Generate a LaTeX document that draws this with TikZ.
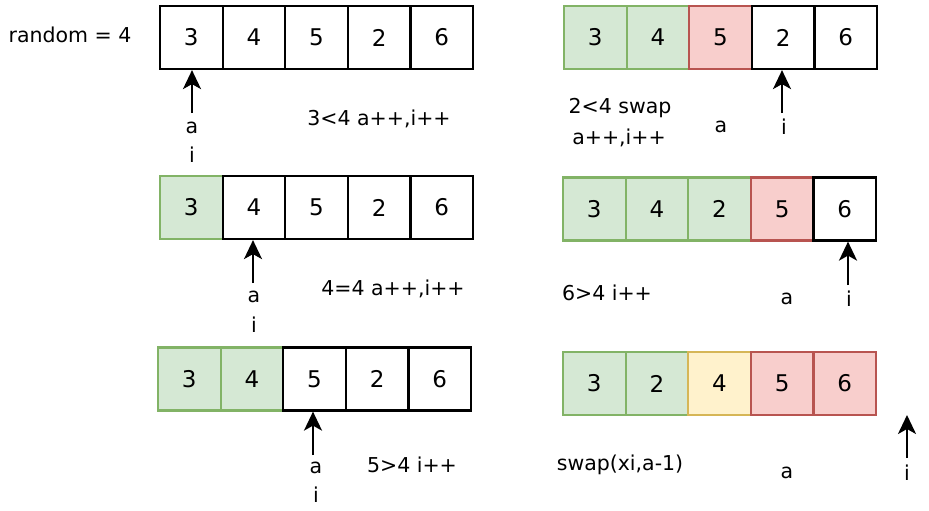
\documentclass[tikz,border=0pt]{standalone}
\usepackage{fontspec}
\setmainfont{DejaVu Sans}
\usetikzlibrary{arrows.meta}
\definecolor{gfill}{HTML}{D5E8D4}\definecolor{gline}{HTML}{82B366}
\definecolor{rfill}{HTML}{F8CECC}\definecolor{rline}{HTML}{B85450}
\definecolor{yfill}{HTML}{FFF2CC}\definecolor{yline}{HTML}{D6B656}
\tikzset{
  cellbase/.style={rectangle, minimum width=62.6pt, minimum height=63pt, inner sep=0pt, line width=2.2pt, font=\fontsize{23}{25}\selectfont},
  cellW/.style={cellbase, draw=black, fill=white},
  cellG/.style={cellbase, draw=gline, fill=gfill},
  cellR/.style={cellbase, draw=rline, fill=rfill},
  cellY/.style={cellbase, draw=yline, fill=yfill},
  lbl/.style={inner sep=0pt, text depth=0pt, font=\fontsize{20.5}{22}\selectfont},
  ptr/.style={line width=2.2pt, -{Stealth[length=19pt,width=18pt,inset=5pt]}},
}
\begin{document}
\begin{tikzpicture}[x=1pt,y=-1pt]
\useasboundingbox (0,0) rectangle (929,511);
% row 1 left
\foreach \v/\s [count=\k] in {3/W,4/W,5/W,2/W,6/W}
  \node[cell\s] (La-\k) at ({160+62.6*\k-31.3},37.5) {\v};
% row 1 right
\foreach \v/\s [count=\k] in {3/G,4/G,5/R,2/W,6/W}
  \node[cell\s] (Ra-\k) at ({564+62.6*\k-31.3},37.5) {\v};
% row 2 left
\foreach \v/\s [count=\k] in {3/G,4/W,5/W,2/W,6/W}
  \node[cell\s] (Lb-\k) at ({160+62.6*\k-31.3},207.5) {\v};
% row 2 right
\foreach \v/\s [count=\k] in {3/G,4/G,2/G,5/R,6/W}
  \node[cell\s] (Rb-\k) at ({563+62.6*\k-31.3},209) {\v};
% row 3 left
\foreach \v/\s [count=\k] in {3/G,4/G,5/W,2/W,6/W}
  \node[cell\s] (Lc-\k) at ({158+62.6*\k-31.3},379) {\v};
% row 3 right
\foreach \v/\s [count=\k] in {3/G,2/G,4/Y,5/R,6/R}
  \node[cell\s] (Rc-\k) at ({563+62.6*\k-31.3},383.5) {\v};

% texts
\node[lbl] (rnd) at (70,35) {random = 4};
\node[lbl] (t1) at (379,118) {3<4 a++,i++};
\node[lbl] (a1) at (192,128) {a};
\node[lbl] (i1) at (192,155) {i};
\node[lbl] (t2a) at (620,106) {2<4 swap};
\node[lbl] (t2b) at (619,137) {a++,i++};
\node[lbl] (a2) at (721,127) {a};
\node[lbl] (i2) at (784,127) {i};
\node[lbl] (t3) at (393,288) {4=4 a++,i++};
\node[lbl] (a3) at (254,297) {a};
\node[lbl] (i3) at (254,325) {i};
\node[lbl] (t4) at (607,293) {6>4 i++};
\node[lbl] (a4) at (787,299) {a};
\node[lbl] (i4) at (849,299) {i};
\node[lbl] (t5) at (412,465) {5>4 i++};
\node[lbl] (a5) at (316,468) {a};
\node[lbl] (i5) at (316,495) {i};
\node[lbl] (t6) at (620,463) {swap(xi,a-1)};
\node[lbl] (a6) at (787,473) {a};
\node[lbl] (i6) at (907,473) {i};

% pointers
\coordinate (p1) at (192,113);
\draw[ptr] (p1) -- (p1 |- La-1.south);
\coordinate (p2) at (782,113);
\draw[ptr] (p2) -- (p2 |- Ra-4.south);
\coordinate (p3) at (253,283);
\draw[ptr] (p3) -- (p3 |- Lb-2.south);
\coordinate (p4) at (848,285);
\draw[ptr] (p4) -- (p4 |- Rb-5.south);
\coordinate (p5) at (313,455);
\draw[ptr] (p5) -- (p5 |- Lc-3.south);
\coordinate (p6) at (907,458);
\coordinate (p6t) at (907,415);
\draw[ptr] (p6) -- (p6t);
\end{tikzpicture}
\end{document}
